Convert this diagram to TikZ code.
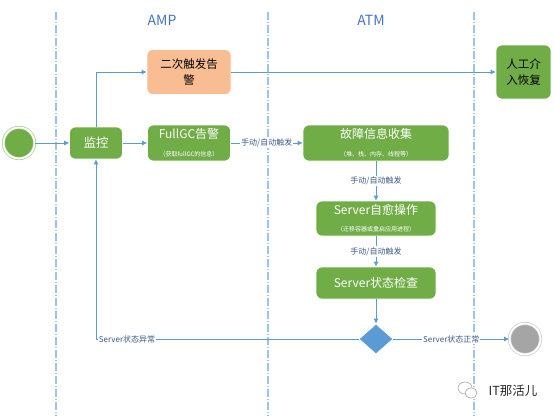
\documentclass[tikz,border=0pt]{standalone}
\usepackage{fontspec}
\setmainfont{Noto Sans CJK SC}
\usetikzlibrary{arrows.meta,shapes.geometric}
\definecolor{lanegray}{HTML}{9DC3E6}
\definecolor{flowgreen}{HTML}{70AD47}
\definecolor{alarmorange}{HTML}{F8BD93}
\definecolor{flowblue}{HTML}{5B9BD5}
\definecolor{headblue}{HTML}{4472C4}
\definecolor{lbltext}{HTML}{3B5B8A}
\definecolor{endgray}{HTML}{A5A5A5}
\newcommand{\boxnote}[1]{{\fontsize{6}{7}\selectfont #1}}

\begin{document}
\begin{tikzpicture}[x=1pt,y=-1pt,
  lane/.style={draw=lanegray,line width=1.6pt,dash pattern=on 8pt off 2pt on 1pt off 2pt},
  head/.style={text=headblue,font=\fontsize{14}{16}\selectfont},
  stepbox/.style={rectangle,rounded corners=6pt,fill=flowgreen,draw=white,line width=0.6pt,
    text=white,align=center,inner sep=0pt,font=\fontsize{12}{15}\selectfont},
  alarmbox/.style={stepbox,fill=alarmorange,text=black,font=\fontsize{11.5}{16}\selectfont},
  startnode/.style={circle,fill=flowgreen,draw=flowgreen!70,double=white,double distance=2pt,
    line width=0.6pt,minimum size=31pt,inner sep=0pt},
  endnode/.style={startnode,fill=endgray,draw=gray!45},
  gate/.style={diamond,fill=flowblue,draw=white,line width=0.6pt,minimum width=34pt,
    minimum height=30pt,inner sep=0pt},
  flow/.style={draw=flowblue,line width=0.8pt,-{Latex[length=5pt,width=5pt]}},
  edgelbl/.style={fill=white,text=lbltext,inner sep=1pt,font=\fontsize{8}{9}\selectfont}]
  \useasboundingbox (0,0) rectangle (555,416);
  \foreach \x in {56,268,474}{
    \draw[lane] (\x,12) -- (\x,416);
  }
  \node[head] (amp) at (162,20) {AMP};
  \node[head] (atm) at (371,20) {ATM};
  \node[startnode] (start) at (19,143) {};
  \node[stepbox,minimum width=53pt,minimum height=32pt,font=\fontsize{12.5}{15}\selectfont] (mon) at (96,143) {监控};
  \node[stepbox,minimum width=83pt,minimum height=36pt] (fullgc) at (189,143)
    {FullGC告警\\[3pt]\boxnote{（获取fullGC的信息）}};
  \node[alarmbox,minimum width=84pt,minimum height=45pt] (alarm2) at (189,72) {二次触发告\\警};
  \node[alarmbox,fill=flowgreen,minimum width=55pt,minimum height=54pt] (manual) at (523.5,72) {人工介\\入恢复};
  \node[stepbox,minimum width=146pt,minimum height=36pt] (collect) at (376,143)
    {故障信息收集\\[3pt]\boxnote{（堆、栈、内存、线程等）}};
  \node[stepbox,minimum width=120pt,minimum height=35pt] (heal) at (376,218.5)
    {Server自愈操作\\[2pt]\boxnote{（迁移容器或重启应用进程）}};
  \node[stepbox,minimum width=120pt,minimum height=32pt] (check) at (376,283) {Server状态检查};
  \node[gate] (dec) at (376,339) {};
  \node[endnode] (end) at (525,339) {};
  \draw[flow] (start) -- (mon);
  \draw[flow] (mon) -- (fullgc);
  \draw[flow] (mon.north) |- (alarm2.west);
  \draw[flow] (alarm2) -- (manual);
  \draw[flow] (fullgc) -- node[edgelbl]{手动/自动触发} (collect);
  \draw[flow] (collect) -- node[edgelbl]{手动/自动触发} (heal);
  \draw[flow] (heal) -- node[edgelbl]{手动/自动触发} (check);
  \draw[flow] (check) -- (dec);
  \draw[flow] (dec.west) -| node[pos=0.5,anchor=west,xshift=1.5pt,edgelbl]{Server状态异常} (mon.south);
  \draw[flow] (dec) -- node[edgelbl]{Server状态正常} (end);
  \draw[gray!60,line width=0.7pt] (465,388) ellipse [x radius=7pt,y radius=6pt];
  \draw[gray!60,line width=0.7pt,fill=white] (471,393) ellipse [x radius=6pt,y radius=5pt];
  \node[text=gray!30!black,font=\fontsize{12.5}{14}\selectfont] (mark) at (513,391) {IT那活儿};
\end{tikzpicture}
\end{document}
